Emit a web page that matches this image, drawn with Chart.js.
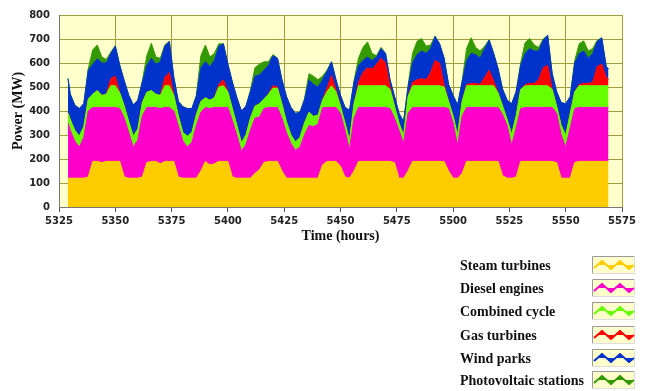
<!DOCTYPE html>
<html>
<head>
<meta charset="utf-8">
<script src="https://cdn.jsdelivr.net/npm/chart.js@4.4.1/dist/chart.umd.min.js"></script>
<style>
  body { margin: 0; background: #fff; }
  #wrap { width: 650px; height: 391px; }
</style>
</head>
<body>
<div id="wrap"><canvas id="powerChart" width="650" height="391"></canvas></div>
<script>
// hours: 5329, then every 2 h from 5330 to 5568, then 5569
const hours = [5329];
for (let h = 5330; h <= 5568; h += 2) hours.push(h);
hours.push(5569);

// MW per technology (stacked), one value per entry of hours
const steam = [120, 120, 120,
  120, 120, 125, 190, 190, 185, 190, 190, 190, 190, 125, 120,
  120, 120, 125, 185, 190, 190, 180, 190, 190, 190, 125, 120,
  120, 120, 120, 150, 190, 175, 180, 190, 190, 190, 125, 120,
  120, 120, 120, 140, 155, 185, 190, 190, 190, 150, 120, 120,
  120, 120, 120, 120, 120, 120, 175, 190, 190, 190, 170, 125,
  120, 150, 190, 190, 190, 190, 190, 190, 190, 190, 185, 120,
  120, 150, 190, 190, 190, 190, 190, 190, 190, 190, 150, 120,
  120, 140, 190, 190, 190, 190, 190, 190, 190, 190, 130, 120,
  120, 125, 190, 190, 190, 190, 190, 190, 190, 190, 185, 120,
  120, 120, 185, 190, 190, 190, 190, 190, 190, 190, 190];

const diesel = [230, 200, 155,
  130, 170, 275, 225, 225, 230, 225, 225, 225, 220, 245, 190,
  130, 160, 255, 230, 225, 225, 230, 225, 225, 210, 215, 155,
  130, 150, 220, 245, 225, 235, 235, 225, 225, 225, 235, 180,
  112, 140, 200, 230, 220, 225, 225, 225, 225, 220, 190, 145,
  116, 130, 180, 220, 215, 225, 238, 225, 225, 225, 220, 195,
  120, 220, 225, 225, 225, 225, 225, 225, 225, 220, 185, 200,
  145, 240, 225, 225, 225, 225, 225, 225, 225, 225, 260, 230,
  137, 240, 225, 225, 225, 225, 225, 225, 225, 225, 255, 220,
  137, 205, 220, 225, 225, 225, 225, 225, 225, 225, 205, 180,
  130, 210, 225, 225, 225, 225, 225, 225, 225, 225, 225];

const combined = [42, 45, 45,
  45, 45, 50, 55, 70, 50, 55, 90, 90, 65, 50, 45,
  45, 45, 55, 63, 70, 55, 55, 90, 90, 65, 40, 35,
  45, 40, 45, 45, 40, 35, 40, 85, 90, 65, 50, 40,
  36, 40, 50, 50, 55, 40, 55, 80, 80, 60, 45, 35,
  35, 40, 50, 55, 43, 37, 32, 65, 90, 65, 30, 30,
  38, 60, 90, 90, 90, 90, 90, 90, 90, 80, 50, 30,
  33, 70, 90, 90, 90, 90, 90, 90, 90, 85, 30, 30,
  42, 60, 90, 90, 90, 90, 90, 90, 90, 60, 35, 25,
  46, 50, 80, 90, 90, 90, 90, 90, 90, 75, 30, 40,
  49, 60, 70, 90, 90, 90, 90, 90, 90, 90, 90];

const gas = [0, 0, 0,
  0, 0, 0, 0, 0, 0, 0, 30, 40, 0, 0, 0,
  0, 0, 0, 0, 0, 0, 0, 35, 55, 0, 0, 0,
  0, 0, 0, 0, 0, 0, 0, 10, 25, 0, 0, 0,
  0, 0, 0, 0, 0, 0, 0, 10, 5, 0, 0, 0,
  0, 0, 0, 0, 0, 0, 0, 15, 43, 10, 0, 0,
  0, 0, 15, 55, 75, 70, 90, 115, 95, 10, 0, 0,
  0, 0, 15, 25, 30, 25, 55, 105, 95, 10, 0, 0,
  0, 0, 5, 10, 10, 5, 35, 65, 20, 0, 0, 0,
  0, 0, 0, 5, 10, 10, 25, 75, 85, 0, 0, 0,
  0, 0, 0, 5, 10, 10, 15, 80, 90, 35, 25];

const wind = [143, 105, 105,
  115, 95, 120, 125, 133, 135, 130, 105, 125, 115, 105, 110,
  130, 120, 85, 112, 135, 125, 140, 130, 130, 75, 60, 108,
  115, 100, 77, 140, 150, 140, 155, 160, 150, 115, 110, 115,
  132, 120, 110, 125, 120, 120, 120, 125, 120, 100, 105, 115,
  119, 105, 95, 135, 132, 118, 85, 70, 57, 40, 45, 65,
  125, 90, 70, 50, 45, 35, 30, 40, 40, 30, 40, 40,
  57, 40, 80, 105, 115, 110, 100, 100, 80, 110, 70, 85,
  126, 80, 100, 125, 120, 110, 120, 125, 115, 100, 70, 80,
  127, 100, 100, 130, 145, 135, 120, 115, 125, 65, 60, 95,
  131, 70, 120, 130, 135, 105, 120, 105, 110, 45, 45];

const solar = [0, 0, 0,
  0, 0, 7, 60, 57, 25, 15, 5, 2, 0, 0, 0,
  0, 0, 5, 40, 62, 30, 15, 5, 0, 0, 0, 0,
  0, 0, 3, 50, 70, 40, 30, 10, 0, 0, 0, 0,
  0, 0, 5, 35, 45, 35, 15, 5, 0, 0, 0, 0,
  0, 0, 5, 25, 35, 30, 15, 5, 0, 0, 0, 0,
  0, 5, 30, 55, 63, 30, 5, 5, 0, 0, 0, 0,
  0, 5, 40, 55, 52, 30, 15, 2, 0, 0, 0, 0,
  0, 5, 50, 65, 30, 30, 10, 2, 0, 0, 0, 0,
  0, 2, 10, 45, 42, 25, 15, 5, 0, 0, 0, 0,
  0, 0, 10, 40, 42, 30, 20, 5, 0, 0, 0];

const seriesNames = ["Steam turbines", "Diesel engines", "Combined cycle",
  "Gas turbines", "Wind parks", "Photovoltaic stations"];
const seriesColors = ["#ffcc00", "#ff00cc", "#66ff00", "#ff0000", "#0033cc", "#339900"];
const seriesData = [steam, diesel, combined, gas, wind, solar];

const datasets = seriesData.map(function (vals, i) {
  return {
    label: seriesNames[i],
    data: vals.map(function (v, k) { return { x: hours[k], y: v }; }),
    backgroundColor: seriesColors[i],
    borderColor: seriesColors[i],
    borderWidth: 1,
    pointRadius: 0,
    tension: 0,
    fill: i === 0 ? "origin" : "-1"
  };
});

// pale yellow plot background
const plotBg = {
  id: "plotBg",
  beforeDraw(chart) {
    const a = chart.chartArea, c = chart.ctx;
    c.save();
    c.fillStyle = "#ffffcc";
    c.fillRect(a.left, a.top, a.right - a.left, a.bottom - a.top);
    c.restore();
  }
};

// legend in the lower right, text plus zigzag swatch
const sideLegend = {
  id: "sideLegend",
  afterDraw(chart) {
    const c = chart.ctx;
    const rowY = [265, 288, 311, 335, 358, 380];
    c.save();
    c.font = 'bold 14px "Liberation Serif"';
    c.textBaseline = "middle";
    c.fillStyle = "#111";
    seriesNames.forEach(function (name, i) {
      const y = rowY[i];
      c.fillText(name, 460, y + 1);
      const bx = 592, by = y - 9, bw = 43, bh = 18;
      c.fillStyle = "#ffffcc";
      c.fillRect(bx, by, bw, bh);
      c.strokeStyle = "#9a9a9a";
      c.lineWidth = 1;
      c.beginPath();
      c.moveTo(bx + 0.5, by + bh); c.lineTo(bx + 0.5, by + 0.5); c.lineTo(bx + bw, by + 0.5);
      c.stroke();
      c.strokeStyle = "#dddddd";
      c.beginPath();
      c.moveTo(bx + bw - 0.5, by); c.lineTo(bx + bw - 0.5, by + bh - 0.5); c.lineTo(bx, by + bh - 0.5);
      c.stroke();
      const pts = [[2, 12], [10, 5], [19, 13], [28, 5], [37, 13], [42, 9]];
      c.strokeStyle = seriesColors[i];
      c.fillStyle = seriesColors[i];
      c.lineWidth = 2;
      c.beginPath();
      pts.forEach(function (p, k) { if (k === 0) c.moveTo(bx + p[0], by + p[1]); else c.lineTo(bx + p[0], by + p[1]); });
      c.stroke();
      pts.slice(1, 5).forEach(function (p, k) {
        const px = bx + p[0], py = by + p[1];
        c.beginPath();
        if (k % 2 === 0) { c.moveTo(px - 4, py + 4); c.lineTo(px, py - 1); c.lineTo(px + 4, py + 4); }
        else { c.moveTo(px - 4, py - 4); c.lineTo(px, py + 1); c.lineTo(px + 4, py - 4); }
        c.closePath();
        c.fill();
      });
      c.fillStyle = "#111";
    });
    c.restore();
  }
};

const tickFont = { family: '"DejaVu Sans"', size: 10, weight: "bold" };
const titleFont = { family: '"Liberation Serif"', size: 14, weight: "bold" };
const gridColor = "#a19c3e";

new Chart("powerChart", {
  type: "line",
  data: { datasets: datasets },
  plugins: [plotBg, sideLegend],
  options: {
    responsive: false,
    animation: false,
    layout: { padding: { top: 15, right: 28, bottom: 146, left: 0 } },
    plugins: { legend: { display: false }, tooltip: { enabled: false } },
    scales: {
      x: {
        type: "linear",
        min: 5325,
        max: 5575,
        ticks: { stepSize: 25, color: "#222", font: tickFont, padding: 3, maxRotation: 0,
          callback: function (v) { return v; } },
        grid: { color: gridColor, tickColor: "#555", tickLength: 5 },
        border: { color: "#777" },
        title: { display: true, text: "Time (hours)", color: "#111", font: titleFont, padding: 0 },
        afterFit: function (s) { s.height = 38; }
      },
      y: {
        stacked: true,
        min: 0,
        max: 800,
        ticks: { stepSize: 100, color: "#222", font: tickFont, padding: 9 },
        grid: { color: gridColor, drawTicks: false },
        border: { color: "#777" },
        title: { display: true, text: "Power (MW)", color: "#111", font: titleFont, padding: { top: 10, bottom: 0 } },
        afterFit: function (s) { s.width = 59; }
      }
    }
  }
});
</script>
</body>
</html>
